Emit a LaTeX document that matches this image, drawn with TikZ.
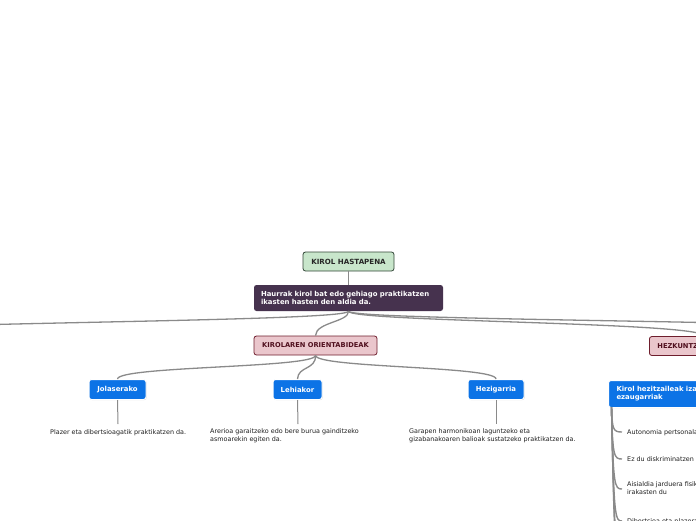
\documentclass[tikz,border=0pt]{standalone}
\usepackage{fontspec}
\setmainfont{DejaVu Sans}
\usetikzlibrary{shadows}
\definecolor{conn}{RGB}{138,138,138}
\definecolor{rootfill}{RGB}{200,230,203}
\definecolor{rootdraw}{RGB}{50,70,55}
\definecolor{mainfill}{RGB}{70,50,78}
\definecolor{catfill}{RGB}{234,198,204}
\definecolor{catdraw}{RGB}{110,30,45}
\definecolor{cattext}{RGB}{80,15,30}
\definecolor{bluefill}{RGB}{12,115,230}
\definecolor{leaftext}{RGB}{30,30,30}
\tikzset{
  rootbox/.style={draw=rootdraw, fill=rootfill, line width=0.8pt, rounded corners=2.5pt, font=\fontsize{7.1}{8}\selectfont\bfseries, text=black!85, minimum width=91pt, minimum height=19pt, inner sep=0pt},
  mainbox/.style={fill=mainfill, rounded corners=2.5pt, font=\fontsize{6.9}{8.2}\selectfont\bfseries, text=white, align=left, text width=175pt, inner xsep=7pt, minimum height=26pt, inner ysep=0pt},
  catbox/.style={draw=catdraw, fill=catfill, line width=0.8pt, rounded corners=2.5pt, font=\fontsize{6.7}{7.5}\selectfont\bfseries, text=cattext, minimum height=19pt, inner sep=0pt},
  bluebox/.style={draw=white, fill=bluefill, line width=1pt, rounded corners=2.5pt, font=\fontsize{6.9}{8.2}\selectfont\bfseries, text=white, minimum height=20pt, inner sep=0pt, drop shadow={shadow xshift=0.6pt, shadow yshift=-0.6pt, opacity=0.35}},
  leaf/.style={font=\fontsize{6.4}{8}\selectfont, text=leaftext, align=left, inner sep=0pt, anchor=west},
  conline/.style={draw=conn, line width=1.3pt},
  trunkline/.style={draw=conn, line width=1.4pt},
}
\begin{document}
\begin{tikzpicture}[x=1pt, y=-1pt]
\useasboundingbox (0,0) rectangle (696,520);
\clip (0,0) rectangle (696,520);
\coordinate (farleft) at (-220,337);
\coordinate (farright) at (980,337);

\node[rootbox] (root) at (348.5,261.5) {KIROL HASTAPENA};
\node[mainbox] (main) at (348.5,298) {Haurrak kirol bat edo gehiago praktikatzen\\ikasten hasten den aldia da.};
\node[catbox, minimum width=123pt] (orient) at (315.5,345.5) {KIROLAREN ORIENTABIDEAK};
\node[catbox, minimum width=110pt, anchor=west, align=left, inner xsep=8pt, text width=94pt] (hezk) at (649,346) {HEZKUNTZAN};
\node[bluebox, minimum width=57pt] (jolas) at (117.5,389.5) {Jolaserako};
\node[bluebox, minimum width=49pt] (lehia) at (297.5,389.5) {Lehiakor};
\node[bluebox, minimum width=56pt] (hezig) at (496,389.5) {Hezigarria};
\node[bluebox, anchor=north west, minimum height=27pt, align=left, inner xsep=8pt, text width=150pt] (ezaug) at (608,380) {Kirol hezitzaileak izan behar dituen\\ezaugarriak};

\coordinate (j1) at (118,424);
\coordinate (l1) at (298,424);
\coordinate (h1) at (496,424);
\coordinate (tr) at (611.5,407);

\draw[conline] (root.south) -- (main.north);
\draw[conline] (main.south) .. controls (349,322) and (316,322) .. (orient.north);
\draw[conline] (main.south) .. controls (349,323) and (-220,322) .. (farleft);
\draw[conline] (main.south) .. controls (349,322) and (704,322) .. (hezk.north);
\draw[conline] (main.south) .. controls (349,322) and (980,320) .. (farright);
\draw[conline] (orient.south) .. controls (316,368) and (118,366) .. (jolas.north);
\draw[conline] (orient.south) .. controls (316,370) and (298,366) .. (lehia.north);
\draw[conline] (orient.south) .. controls (316,368) and (496,366) .. (hezig.north);
\draw[conline, line width=1pt] (jolas.south) -- (j1);
\draw[conline, line width=1pt] (lehia.south) -- (l1);
\draw[conline, line width=1pt] (hezig.south) -- (h1);
\foreach \yy in {432,459,489,521,548,575}{
  \coordinate (rr) at (622,\yy);
  \draw[trunkline] (tr) .. controls ({611.5+(\yy-407)*0.02},{\yy-2}) and ({613+(\yy-407)*0.02},\yy) .. (rr);
}

\node[leaf] (t1) at (50,432.5) {Plazer eta dibertsioagatik praktikatzen da.};
\node[leaf, anchor=north west] (t2) at (210,428.5) {Arerioa garaitzeko edo bere burua gainditzeko\\asmoarekin egiten da.};
\node[leaf, anchor=north west] (t3) at (409,428.5) {Garapen harmonikoan laguntzeko eta\\gizabanakoaren balioak sustatzeko praktikatzen da.};
\node[leaf] (e1) at (627,432.5) {Autonomia pertsonala sustatzen du};
\node[leaf] (e2) at (627,459.5) {Ez du diskriminatzen};
\node[leaf, anchor=north west] (e3) at (627,481.5) {Aisialdia jarduera fisikoarekin betetzen\\irakasten du};
\node[leaf] (e4) at (627,521.5) {Dibertsioa eta plazera bilatzen ditu};
\end{tikzpicture}
\end{document}
